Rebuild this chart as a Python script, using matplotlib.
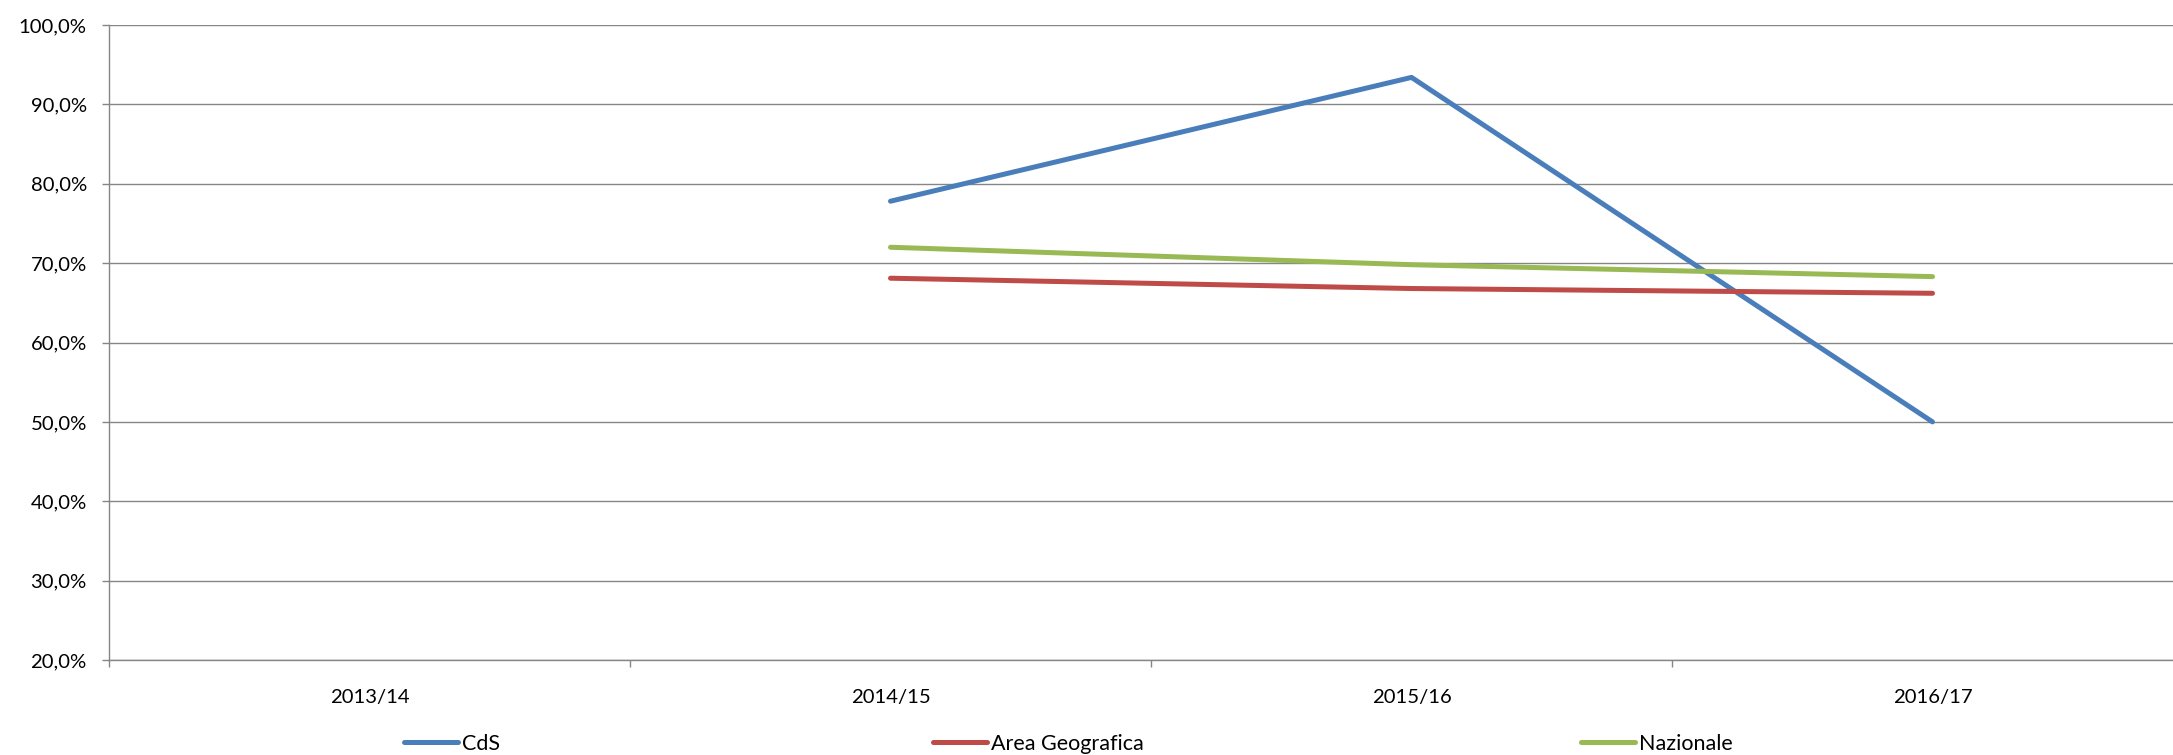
import matplotlib.pyplot as plt
from matplotlib.lines import Line2D
from matplotlib.ticker import FuncFormatter, FixedLocator
import numpy as np

# Data
years = ['2013/14', '2014/15', '2015/16', '2016/17']
cds = [np.nan, 77.8, 93.4, 50.0]
area_geo = [np.nan, 68.1, 66.8, 66.2]
nazionale = [np.nan, 72.0, 69.8, 68.3]

series_names = ['CdS', 'Area Geografica', 'Nazionale']
series_colors = ['#4A7EBB', '#BE4B48', '#98B954']

plt.rcParams['font.family'] = ['Lato', 'DejaVu Sans']

fig = plt.figure(figsize=(21.73, 7.55), dpi=100)
ax = fig.add_axes([109 / 2173, 1 - 660 / 755, 2084 / 2173, 635 / 755])

x = np.arange(len(years))
for vals, col in zip([cds, area_geo, nazionale], series_colors):
    ax.plot(x, vals, color=col, lw=3.6, solid_capstyle='round',
            solid_joinstyle='round', zorder=3)

grid_col = '#868686'
ax.set_ylim(20, 100)
ax.set_xlim(-0.5, len(years) - 0.5)
ax.set_yticks(np.arange(20, 101, 10))
ax.yaxis.set_major_formatter(FuncFormatter(lambda v, p: f'{v:.1f}%'.replace('.', ',')))
ax.grid(axis='y', color=grid_col, lw=1.0)
ax.set_axisbelow(True)

ax.set_xticks(x)
ax.set_xticklabels(years)
ax.xaxis.set_minor_locator(FixedLocator(np.arange(-0.5, len(years), 1)))
ax.tick_params(axis='x', which='major', length=0, pad=21, labelsize=14.6)
ax.tick_params(axis='x', which='minor', length=5, width=1.0, color=grid_col)
ax.tick_params(axis='y', length=5, width=1.0, color=grid_col, pad=11, labelsize=14.6)

for s in ['top', 'right']:
    ax.spines[s].set_visible(False)
ax.spines['left'].set_color(grid_col)
ax.spines['bottom'].set_color(grid_col)
ax.spines['left'].set_linewidth(1.0)
ax.spines['bottom'].set_linewidth(1.0)

# legend entries spread along the bottom like the original
legend_x = [404, 933, 1581]
for name, col, lx in zip(series_names, series_colors, legend_x):
    h = Line2D([], [], color=col, lw=3.6, solid_capstyle='round')
    leg = fig.legend([h], [name], loc='center left',
                     bbox_to_anchor=(lx / 2173, 1 - 744 / 755),
                     frameon=False, fontsize=15.5, handlelength=2.5,
                     handletextpad=0.2, borderaxespad=0, borderpad=0)

fig.savefig('out.png', dpi=100)
